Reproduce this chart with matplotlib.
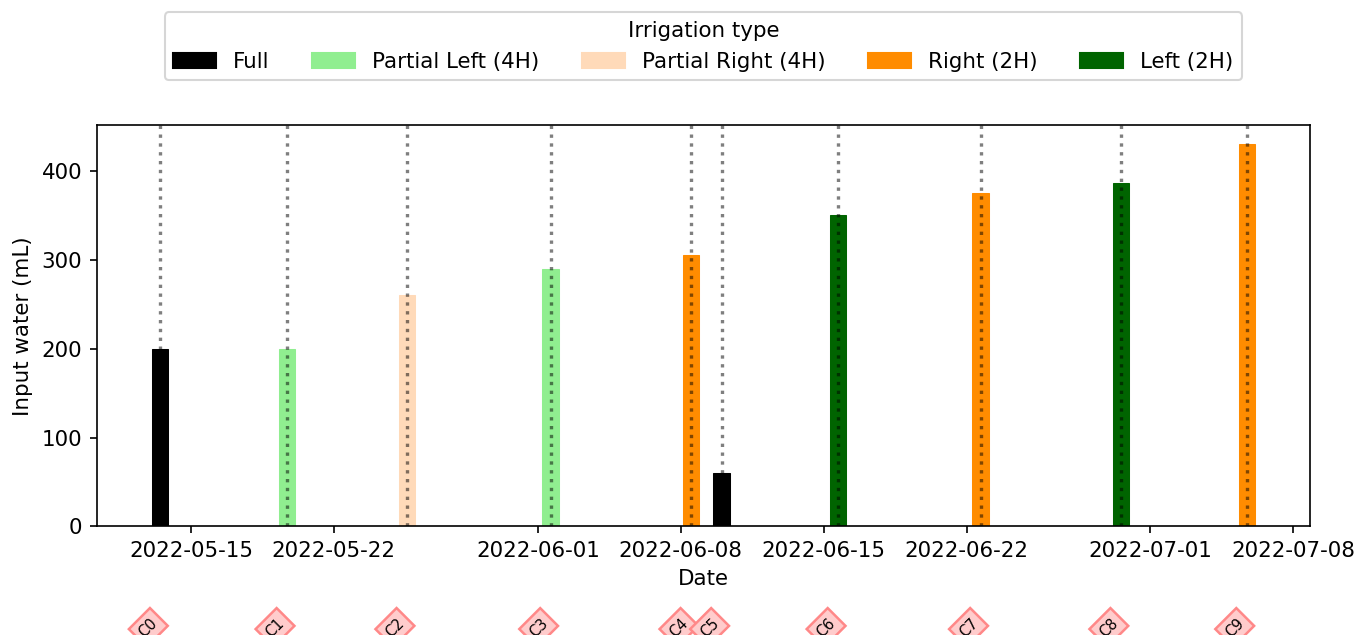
import matplotlib
matplotlib.use("Agg")
import matplotlib.pyplot as plt
import matplotlib.dates as mdates
from matplotlib.patches import Patch
import pandas as pd

# ---- data ----
dates = ["2022-05-13 12:00", "2022-05-19 17:00", "2022-05-25 14:00", "2022-06-01 15:00",
         "2022-06-08 12:00", "2022-06-10 00:00", "2022-06-15 17:00", "2022-06-22 16:30",
         "2022-06-29 13:30", "2022-07-05 17:30"]
water = [200, 200, 260, 290, 305, 60, 350, 375, 386, 430]
types = ["Full", "Partial Left (4H)", "Partial Right (4H)", "Partial Left (4H)",
         "Right (2H)", "Full", "Left (2H)", "Right (2H)", "Left (2H)", "Right (2H)"]
labels = ["C0", "C1", "C2", "C3", "C4", "C5", "C6", "C7", "C8", "C9"]
type_names = ["Full", "Partial Left (4H)", "Partial Right (4H)", "Right (2H)", "Left (2H)"]
type_colors = ["black", "lightgreen", "peachpuff", "darkorange", "darkgreen"]

plt.rcParams["font.size"] = 10.25

color_map = dict(zip(type_names, type_colors))
x = pd.to_datetime(dates)

fig = plt.figure(figsize=(1355 / 150, 635 / 150), dpi=150)
ax = fig.add_axes([0.0716, 0.1709, 0.8952, 0.6322])

ax.bar(x, water, width=0.8, color=[color_map[t] for t in types],
       edgecolor=[color_map[t] for t in types], linewidth=0.5, zorder=2)

for d in x:
    ax.axvline(d, color="black", alpha=0.5, linestyle=":", linewidth=1.6, zorder=3)

for d, lab in zip(x, labels):
    ax.annotate(lab, xy=(d, 0), xycoords=("data", "axes fraction"),
                xytext=(-12, -101), textcoords="offset pixels",
                rotation=45, ha="center", va="center", fontsize=7,
                bbox=dict(boxstyle="square,pad=0.35", fc="#ffcccc", ec="#ff8888", lw=1.2),
                annotation_clip=False)

ax.xaxis.set_major_locator(mdates.DayLocator(bymonthday=[1, 8, 15, 22]))
ax.xaxis.set_major_formatter(mdates.DateFormatter("%Y-%m-%d"))
ax.set_xlabel("Date")
ax.set_ylabel("Input water (mL)")

handles = [Patch(facecolor=c, edgecolor=c, label=n) for n, c in zip(type_names, type_colors)]
ax.legend(handles=handles, title="Irrigation type", loc="lower center",
          bbox_to_anchor=(0.5, 1.085), ncol=5, columnspacing=2.0)

fig.savefig("out.png", dpi=150)
